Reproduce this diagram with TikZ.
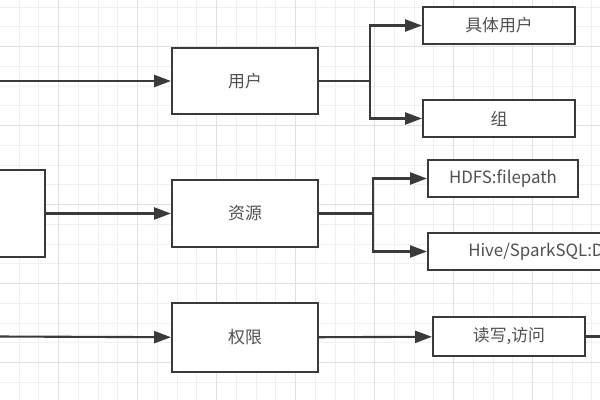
\documentclass[tikz,border=0pt]{standalone}
\usepackage{fontspec}
\newfontfamily\cjk{Noto Sans CJK SC}
\usetikzlibrary{arrows.meta,positioning}
\definecolor{boxline}{HTML}{3A3A3A}
\definecolor{boxtext}{HTML}{505050}
\tikzset{
  box/.style={draw=boxline, line width=1.5pt, fill=white, minimum width=3.65cm, minimum height=1.65cm,
    font=\cjk\fontsize{12}{14}\selectfont, text=boxtext, inner sep=0pt},
  leaf/.style={box, minimum width=3.8cm, minimum height=0.925cm},
  link/.style={draw=boxline, line width=1.5pt},
  arr/.style={link, -{Triangle[length=0.42cm,width=0.3cm]}},
  gridminor/.style={draw=black!6, line width=0.5pt},
  gridmajor/.style={draw=black!12, line width=0.6pt}
}
\begin{document}
\begin{tikzpicture}[x=0.025cm, y=-0.025cm]
\useasboundingbox (0,0) rectangle (600,400);
\clip (0,0) rectangle (600,400);
\fill[white] (0,0) rectangle (600,400);
% background grid
\foreach \i in {0,...,30} \draw[gridminor] ({19+\i*19.75},0) -- ++(0,400);
\foreach \j in {0,...,20} \draw[gridminor] (0,{7+\j*19.75}) -- ++(600,0);
\foreach \i in {0,...,7} \draw[gridmajor] ({58+\i*79},0) -- ++(0,400);
\foreach \j in {0,...,5} \draw[gridmajor] (0,{46+\j*79}) -- ++(600,0);

% boxes
\node[box, minimum width=2.625cm, minimum height=2.175cm] (src) at (-7.5,213.5) {};
\node[box] (user) at (245,81) {用户};
\node[box, minimum height=1.675cm] (res) at (245,213.5) {资源};
\node[box, minimum height=1.725cm] (perm) at (245,337.5) {权限};
\node[leaf] (concrete) at (499,25.5) {具体用户};
\node[leaf] (group) at (499,118.5) {组};
\node[leaf, minimum width=3.75cm] (hdfs) at (503,178.5) {HDFS:filepath};
\node[leaf, minimum width=5.55cm] (hive) at (539,251.5) {};
\node[font=\cjk\fontsize{12}{14}\selectfont, text=boxtext, anchor=west, inner sep=0pt] (hivetext) at (468,251.5) {Hive/SparkSQL:D};
\node[leaf, minimum height=0.975cm] (rw) at (509,336.5) {读写,访问};

% connectors
\coordinate (inuser) at (-5,81);
\coordinate (inperm) at (-5,336.5);
\coordinate (ub) at (370,81);
\coordinate (rb) at (373,213.5);
\coordinate (out) at (610,336.5);
\draw[arr] (inuser) -- (user);
\draw[arr] (src) -- (res);
\draw[arr] (inperm) -- (perm);
\draw[link] (user.east) -- (ub);
\draw[arr] (ub) |- (concrete.west);
\draw[arr] (ub) |- (group.west);
\draw[link] (res.east) -- (rb);
\draw[arr] (rb) |- (hdfs.west);
\draw[arr] (rb) |- (hive.west);
\draw[arr] (perm) -- (rw);
\draw[link] (rw.east) -- (out);
\end{tikzpicture}
\end{document}
